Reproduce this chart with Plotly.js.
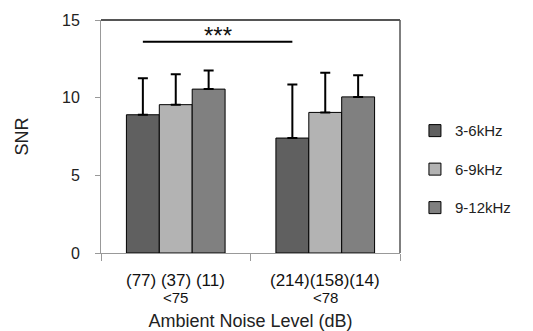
<!DOCTYPE html>
<html>
<head>
<meta charset="utf-8">
<script src="https://cdn.plot.ly/plotly-3.0.1.min.js"></script>
<style>html,body{margin:0;padding:0;background:#fff;}#chart{width:533px;height:331px;}</style>
</head>
<body>
<div id="chart"></div>
<script>
// ---- data ----
var categories = ['<75', '<78'];
var seriesNames = ['3-6kHz', '6-9kHz', '9-12kHz'];
var snr_3_6 = [8.9, 7.4];
var snr_6_9 = [9.55, 9.05];
var snr_9_12 = [10.55, 10.05];
var err_3_6 = [2.35, 3.45];
var err_6_9 = [1.95, 2.55];
var err_9_12 = [1.2, 1.4];
var countLabels = ['(77) (37) (11)', '(214)(158)(14)'];
var levelLabels = ['&lt;75', '&lt;78'];
var sigLabel = '***';
var sigY = 13.6;           // height of significance bar
var sigFrom = 0, sigTo = 1; // compares first series between categories

var colors = ['#606060', '#b3b3b3', '#808080'];
var values = [snr_3_6, snr_6_9, snr_9_12];
var errs = [err_3_6, err_6_9, err_9_12];
var bargap = 0.34;

var traces = values.map(function (v, i) {
  return {
    type: 'bar',
    name: seriesNames[i],
    legendgroup: 'g' + i,
    x: categories,
    y: v,
    marker: {color: colors[i], line: {color: '#000', width: 1}},
    error_y: {type: 'data', symmetric: false, array: errs[i],
      arrayminus: errs[i].map(function () { return 0; }),
      color: '#000', thickness: 2, width: 5}
  };
});

// offset of first series bar center within a category group
var groupW = 1 - bargap;
var firstOffset = -groupW / 2 + groupW / 6;
var x0 = sigFrom + firstOffset, x1 = sigTo + firstOffset;

var annotations = [];
categories.forEach(function (c, i) {
  annotations.push({x: i, xref: 'x', y: -0.12, yref: 'paper', text: countLabels[i],
    showarrow: false, yanchor: 'middle', font: {size: 17, color: '#111'}});
  annotations.push({x: i, xref: 'x', y: -0.19, yref: 'paper', text: levelLabels[i],
    showarrow: false, yanchor: 'middle', font: {size: 15, color: '#111'}});
});
annotations.push({x: (x0 + x1) / 2, xref: 'x', y: sigY, yref: 'y', text: sigLabel,
  showarrow: false, yanchor: 'bottom', yshift: -9, font: {size: 24, color: '#111'}});

var layout = {
  width: 533, height: 331,
  margin: {l: 101, r: 133, t: 20, b: 78},
  paper_bgcolor: '#fff', plot_bgcolor: '#fff',
  font: {family: 'Liberation Sans, Arial, sans-serif', color: '#222'},
  barmode: 'group', bargap: bargap, bargroupgap: 0,
  showlegend: true,
  legend: {x: 1.05, xanchor: 'left', y: 0.595, yanchor: 'top', tracegroupgap: 16,
    font: {size: 15, color: '#222'}, bgcolor: 'rgba(0,0,0,0)'},
  xaxis: {type: 'category', range: [-0.5, 1.5], showticklabels: false,
    tickson: 'boundaries', ticks: 'outside', ticklen: 7, tickcolor: '#999',
    showline: true, linecolor: '#999', linewidth: 1, showgrid: false, zeroline: false,
    title: {text: 'Ambient Noise Level (dB)', font: {size: 18, color: '#222'}, standoff: 63}},
  yaxis: {range: [0, 15], tickvals: [0, 5, 10, 15], ticks: 'outside', ticklen: 5,
    tickcolor: '#999', showline: true, linecolor: '#999', linewidth: 1,
    showgrid: false, zeroline: false, ticklabelstandoff: 12,
    tickfont: {size: 16, color: '#222'},
    title: {text: 'SNR', font: {size: 18, color: '#222'}, standoff: 28}},
  shapes: [
    {type: 'line', xref: 'paper', yref: 'paper', x0: 0, x1: 1, y0: 1, y1: 1,
      line: {color: '#555', width: 2}},
    {type: 'line', xref: 'paper', yref: 'paper', x0: 1, x1: 1, y0: 0, y1: 1,
      line: {color: '#555', width: 1.5}},
    {type: 'line', xref: 'x', yref: 'y', x0: x0, x1: x1, y0: sigY, y1: sigY,
      line: {color: '#000', width: 2}}
  ],
  annotations: annotations
};

Plotly.newPlot('chart', traces, layout, {displayModeBar: false, staticPlot: true});
</script>
</body>
</html>
